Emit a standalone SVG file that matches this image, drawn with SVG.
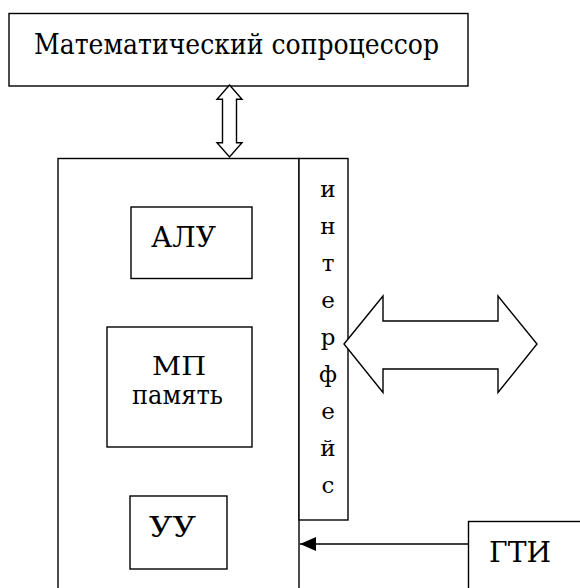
<svg xmlns="http://www.w3.org/2000/svg" width="580" height="588" viewBox="0 0 580 588">
<defs>
<style>
.box{fill:#fff;stroke:#000;stroke-width:1.4}
text{font-family:'DejaVu Serif','Liberation Serif',serif;fill:#000}
.ln{fill:none;stroke:#000;stroke-width:1.4}
.ar{fill:#fff;stroke:#000;stroke-width:1.4;stroke-linejoin:miter}
</style>
<marker id="ah" viewBox="0 0 16 14" refX="16" refY="7" markerWidth="16" markerHeight="14" markerUnits="userSpaceOnUse" orient="auto">
<path d="M0,0 L16,7 L0,14 Z" fill="#000"/>
</marker>
</defs>
<rect width="580" height="588" fill="#fff"/>
<g id="coprocessor">
<rect class="box" x="9" y="13.5" width="459" height="72.5"/>
<text x="34" y="54" font-size="28" textLength="405" lengthAdjust="spacingAndGlyphs">Математический сопроцессор</text>
</g>
<g id="mp">
<rect class="box" x="58" y="158.5" width="241" height="440"/>
</g>
<g id="interface">
<rect class="box" x="299" y="158.5" width="49" height="361.5"/>
<g font-size="23" text-anchor="middle">
<text x="328" y="197">и</text>
<text x="328" y="234">н</text>
<text x="328" y="271">т</text>
<text x="328" y="308">е</text>
<text x="328" y="345">р</text>
<text x="328" y="382">ф</text>
<text x="328" y="419">е</text>
<text x="328" y="456">й</text>
<text x="328" y="493">с</text>
</g>
</g>
<g id="alu">
<rect class="box" x="131" y="207" width="121" height="71.5"/>
<text x="151" y="246.5" font-size="28" textLength="65" lengthAdjust="spacingAndGlyphs">АЛУ</text>
</g>
<g id="memory">
<rect class="box" x="107" y="327" width="145" height="120"/>
<text x="152" y="375" font-size="26" textLength="54" lengthAdjust="spacingAndGlyphs">МП</text>
<text x="132" y="404" font-size="26" textLength="91" lengthAdjust="spacingAndGlyphs">память</text>
</g>
<g id="cu">
<rect class="box" x="130" y="496" width="97" height="73"/>
<text x="149" y="536.5" font-size="28" textLength="47" lengthAdjust="spacingAndGlyphs">УУ</text>
</g>
<g id="gti">
<rect class="box" x="468.5" y="521.5" width="120" height="80"/>
<text x="489" y="561.5" font-size="28" textLength="62" lengthAdjust="spacingAndGlyphs">ГТИ</text>
</g>
<g id="connectors">
<path class="ar" d="M229.5,85 L242,99.3 L236.5,99.3 L236.5,142.7 L242,142.7 L229.5,157 L217,142.7 L222.5,142.7 L222.5,99.3 L217,99.3 Z"/>
<path class="ar" d="M344,344 L383,296 L383,321 L498,321 L498,296 L537,344 L498,392.5 L498,369 L383,369 L383,392.5 Z"/>
<line class="ln" x1="468.5" y1="544" x2="300" y2="544" marker-end="url(#ah)"/>
</g>
</svg>
